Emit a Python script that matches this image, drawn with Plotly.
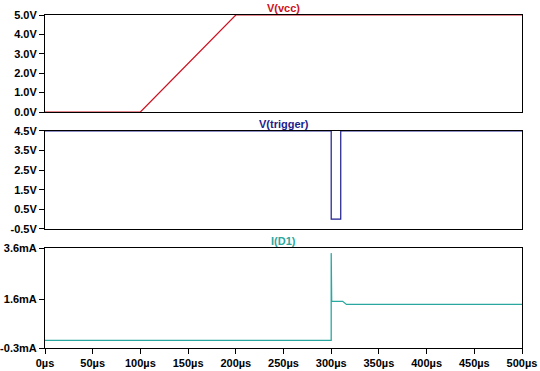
import plotly.graph_objects as go
from plotly.subplots import make_subplots

# ---- data ----
t_vcc = [0, 100, 200, 500]
v_vcc = [0.0, 0.0, 5.0, 5.0]

t_trig = [0, 300, 300, 310, 310, 500]
v_trig = [4.5, 4.5, 0.0, 0.0, 4.5, 4.5]

t_id1 = [0, 300, 300, 300.5, 312, 314, 316, 500]
i_id1 = [0.0, 0.0, 3.4, 1.52, 1.52, 1.46, 1.40, 1.40]

x_ticks = [0, 50, 100, 150, 200, 250, 300, 350, 400, 450, 500]
x_ticklabels = [f"{v}µs" for v in x_ticks]

vcc_ticks = [0, 1, 2, 3, 4, 5]
vcc_labels = ["0.0V", "1.0V", "2.0V", "3.0V", "4.0V", "5.0V"]
trig_ticks = [-0.5, 0.5, 1.5, 2.5, 3.5, 4.5]
trig_labels = ["-0.5V", "0.5V", "1.5V", "2.5V", "3.5V", "4.5V"]
id1_ticks = [-0.3, 1.6, 3.6]
id1_labels = ["-0.3mA", "1.6mA", "3.6mA"]

RED = "#cc1020"
NAVY = "#1c1c8c"
TEAL = "#2aa8a0"

fig = make_subplots(rows=3, cols=1, shared_xaxes=True)

fig.add_trace(go.Scatter(x=t_vcc, y=v_vcc, mode="lines", line=dict(color=RED, width=1.2), cliponaxis=False), row=1, col=1)
fig.add_trace(go.Scatter(x=t_trig, y=v_trig, mode="lines", line=dict(color=NAVY, width=1.2), cliponaxis=False), row=2, col=1)
fig.add_trace(go.Scatter(x=t_id1, y=i_id1, mode="lines", line=dict(color=TEAL, width=1.3), cliponaxis=False), row=3, col=1)

tickfont = dict(family="Liberation Sans, Arial, sans-serif", size=11, color="black", weight="bold")
ax_common = dict(showline=True, linecolor="black", linewidth=1, mirror=True, showgrid=False,
                 zeroline=False, ticks="outside", ticklen=5, tickcolor="black",
                 tickfont=tickfont, layer="below traces", automargin=False)

domains = [[0.7087, 1.0], [0.3574, 0.6517], [0.0, 0.3003]]
yspecs = [([0, 5], vcc_ticks, vcc_labels), ([-0.5, 4.5], trig_ticks, trig_labels), ([-0.3, 3.6], id1_ticks, id1_labels)]
for i in range(3):
    rng, tv, tt = yspecs[i]
    fig.update_yaxes(range=rng, tickvals=tv, ticktext=tt, domain=domains[i], **ax_common, row=i + 1, col=1)
    fig.update_xaxes(range=[0, 500], tickvals=x_ticks, ticktext=x_ticklabels, **ax_common, row=i + 1, col=1)
fig.update_xaxes(ticks="", showticklabels=False, row=1, col=1)
fig.update_xaxes(ticks="", showticklabels=False, row=2, col=1)
fig.update_xaxes(ticks="outside", showticklabels=True, row=3, col=1)

titlefont = dict(family="Liberation Sans, Arial, sans-serif", size=11, weight="bold")
for txt, col, y in [("V(vcc)", RED, 1.0), ("V(trigger)", NAVY, 0.6517), ("I(D1)", TEAL, 0.3003)]:
    fig.add_annotation(text=txt, x=0.5, y=y, xref="paper", yref="paper", xanchor="center", yanchor="bottom",
                       showarrow=False, yshift=-1, font=dict(color=col, **titlefont))

fig.update_layout(width=540, height=371, margin=dict(l=45, r=18, t=15, b=23, autoexpand=False),
                  paper_bgcolor="white", plot_bgcolor="white", showlegend=False, hovermode=False)

fig.write_html("out.html", config={"displayModeBar": False},
               post_script="document.body.style.margin='0';document.body.style.overflow='hidden';")
